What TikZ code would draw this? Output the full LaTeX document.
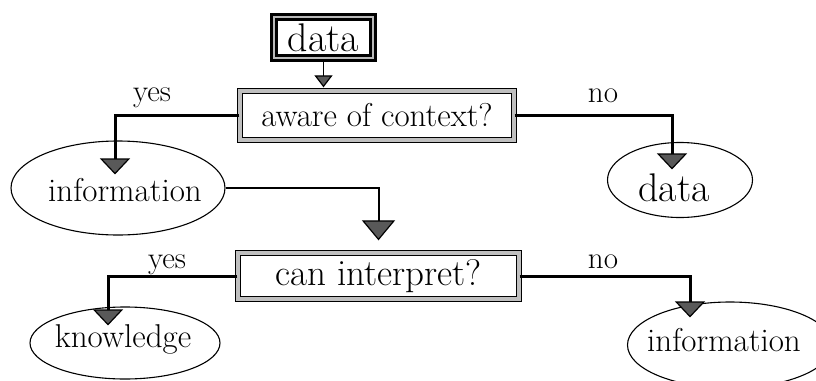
\documentclass[tikz,border=0pt]{standalone}
\usetikzlibrary{shapes.geometric,arrows.meta,calc}
\begin{document}
\begin{tikzpicture}[x=1pt,y=-1pt,
  question/.style={draw=black, line width=1.3pt, double=gray!50, double distance=3.5pt,
    minimum height=49pt, inner sep=0pt},
  startbox/.style={draw=black, line width=2.6pt, double=gray!55, double distance=2.5pt,
    minimum width=99pt, minimum height=41pt, inner sep=0pt},
  outcome/.style={ellipse, draw=black, line width=1.1pt, inner sep=0pt},
  caption/.style={inner sep=0pt},
  flow/.style={line width=3pt,
    -{Triangle[width=30pt,length=16pt,fill=black!65,line width=1.2pt]}},
  thinflow/.style={line width=2pt,
    -{Triangle[width=33pt,length=20pt,fill=black!65,line width=1.2pt]}},
  smallflow/.style={line width=1.8pt, shorten >=3pt,
    -{Triangle[width=18pt,length=12pt,fill=black!65,line width=1.2pt]}},
  answer/.style={inner sep=0pt, font=\fontsize{31}{33}\selectfont},
]
\useasboundingbox (0,0) rectangle (816,380);
\fill[white] (0,0) rectangle (816,380);
\clip (0,0) rectangle (816,380);

% decision boxes
\node[startbox, font=\fontsize{40}{42}\selectfont] (start) at (323.5,37.5) {data};
\node[question, minimum width=274pt, font=\fontsize{33}{35}\selectfont] (aware) at (377,115.5) {aware of context?};
\node[question, minimum width=281pt, minimum height=46pt, font=\fontsize{37}{39}\selectfont] (interp) at (378.5,276) {can interpret?};

% outcome ellipses
\node[outcome, minimum width=214pt, minimum height=94pt] (infoL) at (118,188) {};
\node[outcome, minimum width=145pt, minimum height=75pt] (dataR) at (680,180) {};
\node[outcome, minimum width=190pt, minimum height=72pt] (know) at (125,343) {};
\node[outcome, minimum width=205pt, minimum height=86pt] (infoR) at (730,345) {};

% outcome texts
\node[caption, font=\fontsize{33}{35}\selectfont] (infoLtext) at (125,190) {information};
\node[caption, font=\fontsize{40}{42}\selectfont] (dataRtext) at (674,188) {data};
\node[caption, font=\fontsize{33}{35}\selectfont] (knowtext) at (123,339) {knowledge};
\node[caption, font=\fontsize{33}{35}\selectfont] (infoRtext) at (724,340) {information};

% branch labels
\node[answer] (yesA) at (152,98) {yes};
\node[answer] (noA) at (603,96) {no};
\node[answer] (yesB) at (167,265) {yes};
\node[answer] (noB) at (603,262) {no};

% connectors
\draw[smallflow] (start.south) -- (start.south |- aware.north);
\draw[flow] (aware.west) -| ($(infoL.north)+(-3,34)$);
\draw[flow] (aware.east) -| ($(dataR.north)+(-8,27.5)$);
\draw[thinflow] (infoL.east) -| ($(interp.north)+(0,-12)$);
\draw[flow] (interp.west) -| ($(know.north)+(-17,19)$);
\draw[flow] (interp.east) -| ($(infoR.north)+(-40,16)$);
\end{tikzpicture}
\end{document}
